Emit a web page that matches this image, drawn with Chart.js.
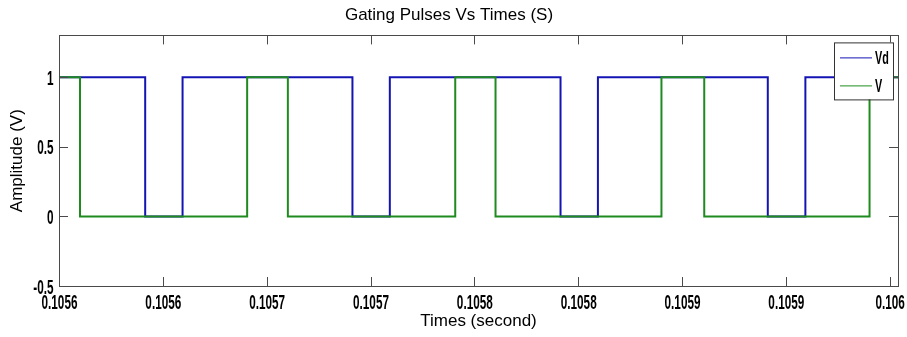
<!DOCTYPE html>
<html>
<head>
<meta charset="utf-8">
<script src="https://cdn.jsdelivr.net/npm/chart.js@4.4.1/dist/chart.umd.min.js"></script>
<style>
  html, body { margin: 0; padding: 0; background: #fff; }
  #wrap { width: 907px; height: 337px; }
</style>
</head>
<body>
<div id="wrap"><canvas id="myChart" width="907" height="337"></canvas></div>
<script>
// gating pulse switching instants (s) and levels
const vdTimes = [0.10556, 0.1056015, 0.1056015, 0.1056195, 0.1056195, 0.1057013, 0.1057013, 0.1057193, 0.1057193,
	0.1058015, 0.1058015, 0.1058195, 0.1058195, 0.1059013, 0.1059013, 0.1059194, 0.1059194, 0.105964];
const vdValues = [1, 1, 0, 0, 1, 1, 0, 0, 1, 1, 0, 0, 1, 1, 0, 0, 1, 1];

const vTimes = [0.10556, 0.1055701, 0.1055701, 0.1056506, 0.1056506, 0.1056702, 0.1056702, 0.1057508, 0.1057508,
	0.1057702, 0.1057702, 0.1058501, 0.1058501, 0.1058707, 0.1058707, 0.1059503, 0.1059503, 0.105964];
const vValues = [1, 1, 0, 0, 1, 1, 0, 0, 1, 1, 0, 0, 1, 1, 0, 0, 1, 1];

const xTicks = [0.10556, 0.10561, 0.10566, 0.10571, 0.10576, 0.10581, 0.10586, 0.10591, 0.10596];
const xTickLabels = ["0.1056", "0.1056", "0.1057", "0.1057", "0.1058", "0.1058", "0.1059", "0.1059", "0.106"];
const yTicks = [-0.5, 0, 0.5, 1];
const yTickLabels = ["-0.5", "0", "0.5", "1"];

const seriesNames = ["Vd", "V"];
const seriesColors = ["#1414b4", "#1f8a1f"];

const sans = "'Liberation Sans', Arial, sans-serif";
const boxColor = "#4a4a4a";

function toPoints(xs, ys) {
	return xs.map((x, i) => ({ x: x, y: ys[i] }));
}

// the tick font in the picture is very narrow, so squeeze it horizontally
function narrowText(ctx, text, x, y, size, squeeze, align) {
	ctx.save();
	ctx.translate(x, y);
	ctx.scale(squeeze, 1);
	ctx.font = "bold " + size + "px " + sans;
	ctx.textAlign = align;
	ctx.textBaseline = "alphabetic";
	ctx.fillText(text, 0, 0);
	ctx.restore();
}

// MATLAB style box with inward ticks on all four sides, plus tick labels
const axesBox = {
	id: "axesBox",
	afterDatasetsDraw(chart) {
		const { ctx, chartArea: a, scales } = chart;
		const len = 9;
		ctx.save();
		ctx.strokeStyle = boxColor;
		ctx.lineWidth = 1;
		ctx.beginPath();
		scales.x.ticks.forEach((t) => {
			const px = Math.round(scales.x.getPixelForValue(t.value)) + 0.5;
			ctx.moveTo(px, a.bottom);
			ctx.lineTo(px, a.bottom - len);
			ctx.moveTo(px, a.top);
			ctx.lineTo(px, a.top + len);
		});
		scales.y.ticks.forEach((t) => {
			const py = Math.round(scales.y.getPixelForValue(t.value)) + 0.5;
			ctx.moveTo(a.left, py);
			ctx.lineTo(a.left + len, py);
			ctx.moveTo(a.right, py);
			ctx.lineTo(a.right - len, py);
		});
		ctx.stroke();
		ctx.strokeRect(Math.round(a.left) + 0.5, Math.round(a.top) + 0.5,
			Math.round(a.right - a.left), Math.round(a.bottom - a.top));

		ctx.fillStyle = "#000";
		scales.x.ticks.forEach((t) => {
			const px = scales.x.getPixelForValue(t.value);
			narrowText(ctx, t.label, px + 0.5, a.bottom + 22.5, 21, 0.56, "center");
		});
		scales.y.ticks.forEach((t) => {
			const py = scales.y.getPixelForValue(t.value);
			narrowText(ctx, t.label, a.left - 5.5, py + 7.5, 21, 0.56, "right");
		});
		ctx.restore();
	},
};

// legend box in the top right corner of the axes
const cornerLegend = {
	id: "cornerLegend",
	afterDraw(chart) {
		const { ctx, chartArea: a } = chart;
		const w = 59, h = 57;
		const left = a.right - 5 - w, top = a.top + 7;
		ctx.save();
		ctx.fillStyle = "#fff";
		ctx.fillRect(left, top, w, h);
		ctx.strokeStyle = "#333";
		ctx.lineWidth = 1;
		ctx.strokeRect(left + 0.5, top + 0.5, w, h);
		ctx.fillStyle = "#000";
		chart.data.datasets.forEach((ds, i) => {
			const y = top + 15.5 + i * 28;
			ctx.strokeStyle = ds.borderColor;
			ctx.beginPath();
			ctx.moveTo(left + 6, y);
			ctx.lineTo(left + 38, y);
			ctx.stroke();
			narrowText(ctx, ds.label, left + 41, y + 6.5, 18, 0.6, "left");
		});
		ctx.restore();
	},
};

const ctx = document.getElementById("myChart");

const myChart = new Chart(ctx, {
	type: "line",
	data: {
		datasets: [
			{
				label: seriesNames[0],
				data: toPoints(vdTimes, vdValues),
				borderColor: seriesColors[0],
				borderWidth: 2,
				pointRadius: 0,
				tension: 0,
				order: 1,
			},
			{
				label: seriesNames[1],
				data: toPoints(vTimes, vValues),
				borderColor: seriesColors[1],
				borderWidth: 2,
				pointRadius: 0,
				tension: 0,
				order: 0,
			},
		],
	},
	options: {
		responsive: false,
		animation: false,
		events: [],
		layout: { padding: { left: 0, right: 9, top: 0, bottom: 0 } },
		plugins: {
			legend: { display: false },
			tooltip: { enabled: false },
			title: {
				display: true,
				text: "Gating Pulses Vs Times (S)",
				color: "#000",
				font: { family: sans, size: 17, weight: "normal" },
				padding: { top: 5, bottom: 10 },
			},
		},
		scales: {
			x: {
				type: "linear",
				min: 0.10556,
				max: 0.105964,
				afterBuildTicks: (s) => { s.ticks = xTicks.map((v) => ({ value: v })); },
				afterFit: (s) => { s.height = 51; s.paddingLeft = 0; s.paddingRight = 0; },
				ticks: {
					display: false,
					autoSkip: false,
					callback: (v, i) => xTickLabels[i],
				},
				grid: { display: false, drawTicks: false },
				border: { display: false },
				title: {
					display: true,
					text: "Times (second)",
					color: "#000",
					font: { family: sans, size: 17 },
					padding: { top: 0, bottom: 5 },
				},
			},
			y: {
				type: "linear",
				min: -0.5,
				max: 1.3,
				afterBuildTicks: (s) => { s.ticks = yTicks.map((v) => ({ value: v })); },
				afterFit: (s) => { s.width = 59; },
				ticks: {
					display: false,
					callback: (v, i) => yTickLabels[i],
				},
				grid: { display: false, drawTicks: false },
				border: { display: false },
				title: {
					display: true,
					text: "Amplitude (V)",
					color: "#000",
					font: { family: sans, size: 17 },
					padding: { top: 7, bottom: 0 },
				},
			},
		},
	},
	plugins: [axesBox, cornerLegend],
});
</script>
</body>
</html>
